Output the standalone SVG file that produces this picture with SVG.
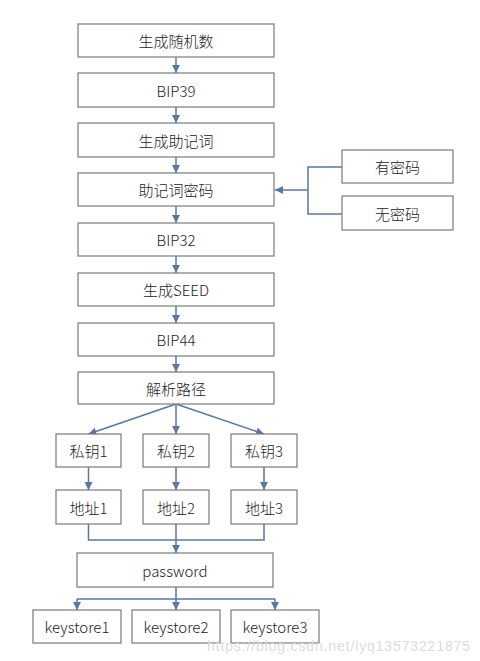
<svg xmlns="http://www.w3.org/2000/svg" width="480" height="661" viewBox="0 0 480 661">
<style>
.box{fill:#fff;stroke:#7a7a7a;stroke-width:1.2}
.t{font-family:"Noto Sans CJK SC","Liberation Sans",sans-serif;font-size:15px;font-weight:300;fill:#222;text-anchor:middle;dominant-baseline:central}
.c{fill:none;stroke:#5a76a3;stroke-width:1.5}
.wm{font-family:"Liberation Sans",sans-serif;font-size:14px;fill:#dcdcdc}
</style>
<defs>
<marker id="a" viewBox="0 0 10 10" refX="10" refY="5" markerWidth="8" markerHeight="8" markerUnits="userSpaceOnUse" orient="auto">
<path d="M0,0 L10,5 L0,10 z" fill="#5a76a3"/>
</marker>
</defs>
<rect width="480" height="661" fill="#fff"/>
<g id="connectors">
<line class="c" x1="176" y1="57" x2="176" y2="73" marker-end="url(#a)"/>
<line class="c" x1="176" y1="107" x2="176" y2="123" marker-end="url(#a)"/>
<line class="c" x1="176" y1="157" x2="176" y2="173" marker-end="url(#a)"/>
<line class="c" x1="176" y1="206" x2="176" y2="223" marker-end="url(#a)"/>
<line class="c" x1="176" y1="256" x2="176" y2="273" marker-end="url(#a)"/>
<line class="c" x1="176" y1="306" x2="176" y2="323" marker-end="url(#a)"/>
<line class="c" x1="176" y1="356" x2="176" y2="372" marker-end="url(#a)"/>
<polyline class="c" points="342,167 308,167 308,214 342,214"/>
<line class="c" x1="308" y1="190" x2="275" y2="190" marker-end="url(#a)"/>
<line class="c" x1="176" y1="404" x2="88.5" y2="434" marker-end="url(#a)"/>
<line class="c" x1="176" y1="404" x2="176" y2="434" marker-end="url(#a)"/>
<line class="c" x1="176" y1="404" x2="264" y2="434" marker-end="url(#a)"/>
<line class="c" x1="88.5" y1="467" x2="88.5" y2="490" marker-end="url(#a)"/>
<line class="c" x1="176" y1="467" x2="176" y2="490" marker-end="url(#a)"/>
<line class="c" x1="264" y1="467" x2="264" y2="490" marker-end="url(#a)"/>
<polyline class="c" points="88.5,524 88.5,540 264,540 264,524"/>
<line class="c" x1="176" y1="524" x2="176" y2="540"/>
<line class="c" x1="176" y1="540" x2="176" y2="553" marker-end="url(#a)"/>
<line class="c" x1="176" y1="587" x2="176" y2="599"/>
<line class="c" x1="77" y1="599" x2="275" y2="599"/>
<line class="c" x1="77" y1="599" x2="77" y2="610" marker-end="url(#a)"/>
<line class="c" x1="176" y1="599" x2="176" y2="610" marker-end="url(#a)"/>
<line class="c" x1="275" y1="599" x2="275" y2="610" marker-end="url(#a)"/>
</g>
<g id="n1"><rect class="box" x="78" y="24" width="196" height="33"/><text class="t" x="176" y="40.5">生成随机数</text></g>
<g id="n2"><rect class="box" x="78" y="73" width="196" height="34"/><text class="t" x="176" y="90">BIP39</text></g>
<g id="n3"><rect class="box" x="78" y="123" width="196" height="34"/><text class="t" x="176" y="140">生成助记词</text></g>
<g id="n4"><rect class="box" x="78" y="173" width="196" height="33"/><text class="t" x="176" y="189.5">助记词密码</text></g>
<g id="n5"><rect class="box" x="78" y="223" width="196" height="33"/><text class="t" x="176" y="239.5">BIP32</text></g>
<g id="n6"><rect class="box" x="78" y="273" width="196" height="33"/><text class="t" x="176" y="289.5">生成SEED</text></g>
<g id="n7"><rect class="box" x="78" y="323" width="196" height="33"/><text class="t" x="176" y="339.5">BIP44</text></g>
<g id="n8"><rect class="box" x="78" y="372" width="196" height="32"/><text class="t" x="176" y="388">解析路径</text></g>
<g id="pw1"><rect class="box" x="342" y="150" width="111" height="33"/><text class="t" x="397.5" y="166.5">有密码</text></g>
<g id="pw2"><rect class="box" x="342" y="196" width="111" height="34"/><text class="t" x="397.5" y="213">无密码</text></g>
<g id="k1"><rect class="box" x="56" y="434" width="65" height="33"/><text class="t" x="88.5" y="450.5">私钥1</text></g>
<g id="k2"><rect class="box" x="143" y="434" width="66" height="33"/><text class="t" x="176" y="450.5">私钥2</text></g>
<g id="k3"><rect class="box" x="231" y="434" width="66" height="33"/><text class="t" x="264" y="450.5">私钥3</text></g>
<g id="a1"><rect class="box" x="56" y="490" width="65" height="34"/><text class="t" x="88.5" y="507">地址1</text></g>
<g id="a2"><rect class="box" x="143" y="490" width="66" height="34"/><text class="t" x="176" y="507">地址2</text></g>
<g id="a3"><rect class="box" x="231" y="490" width="66" height="34"/><text class="t" x="264" y="507">地址3</text></g>
<g id="pw"><rect class="box" x="77" y="553" width="196" height="34"/><text class="t" x="175" y="570">password</text></g>
<g id="ks1"><rect class="box" x="33" y="610" width="88" height="33"/><text class="t" x="77" y="626.5">keystore1</text></g>
<g id="ks2"><rect class="box" x="132" y="610" width="88" height="33"/><text class="t" x="176" y="626.5">keystore2</text></g>
<g id="ks3"><rect class="box" x="231" y="610" width="88" height="33"/><text class="t" x="275" y="626.5">keystore3</text></g>
<text class="wm" x="207" y="651" textLength="263">https://blog.csdn.net/lyq13573221875</text>
</svg>
